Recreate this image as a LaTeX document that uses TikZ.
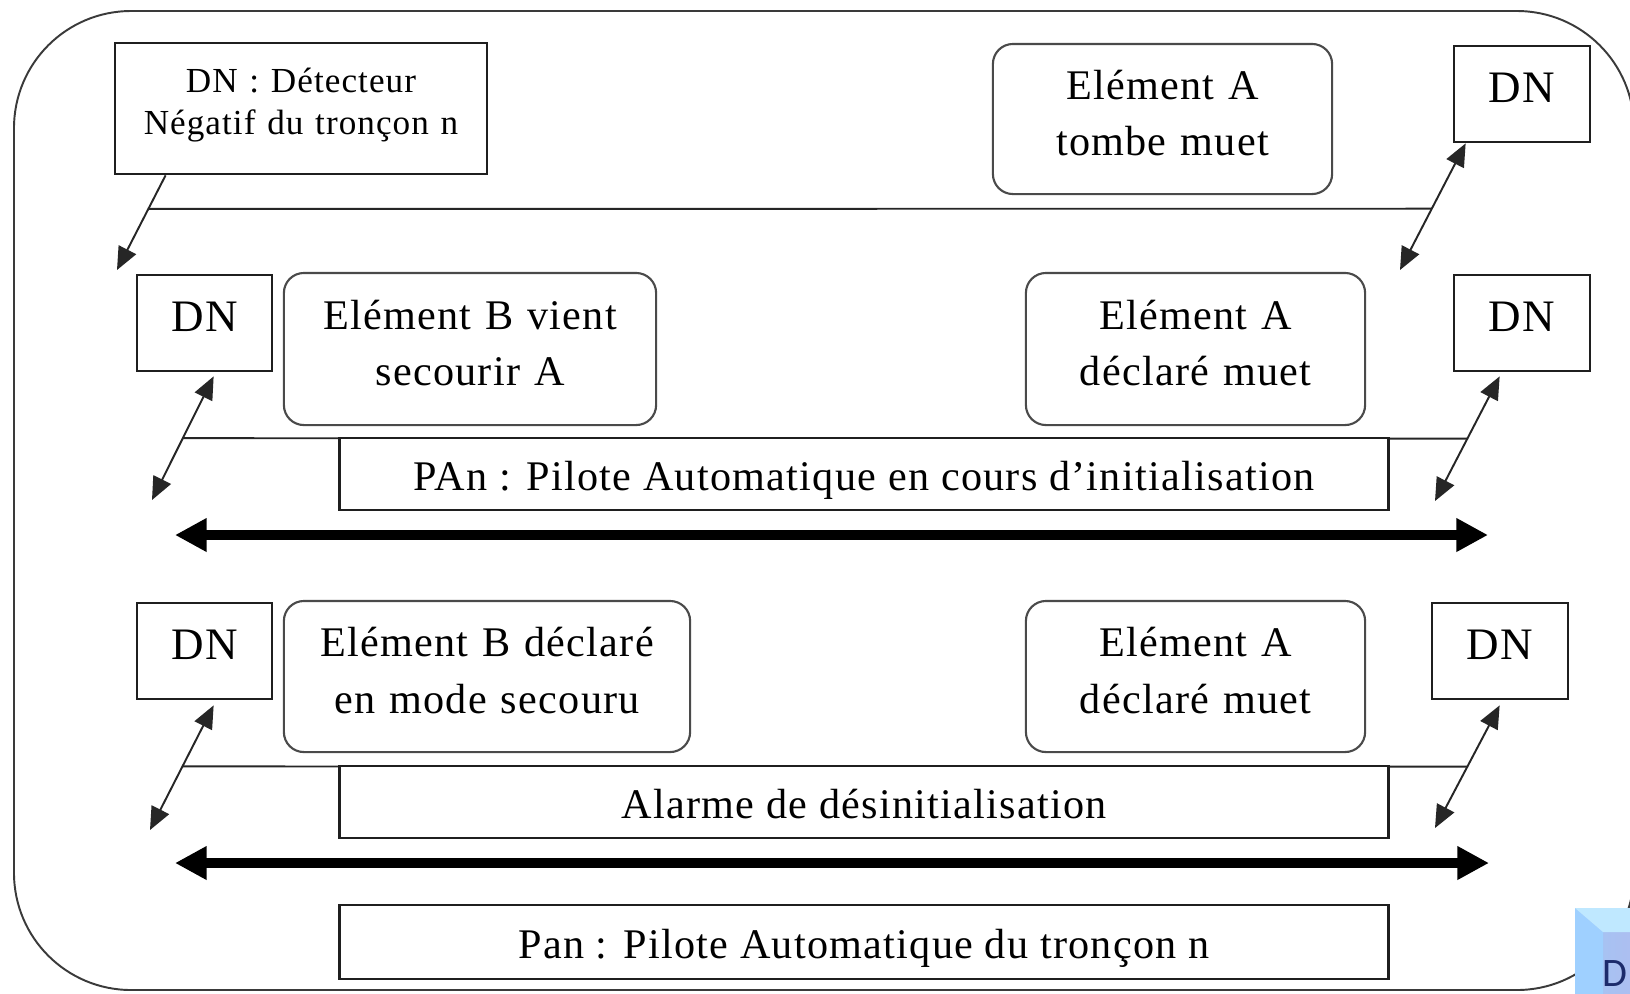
\documentclass[tikz,border=0pt]{standalone}
\usepackage{fontspec}
\setmainfont[LetterSpace=3]{Liberation Serif}
\newfontfamily\badgefont{Carlito}
\usetikzlibrary{arrows.meta,calc}

\definecolor{framegray}{HTML}{3A3A3A}
\definecolor{roundgray}{HTML}{4A4A4A}
\definecolor{badgebase}{HTML}{A2C6F4}
\definecolor{badgeright}{HTML}{AEBDF0}
\definecolor{badgetop}{HTML}{BFE8FF}
\definecolor{badgeleft}{HTML}{9FD0FF}
\definecolor{badgeink}{HTML}{1C2B6B}

\begin{document}
\begin{tikzpicture}[x=0.01cm,y=-0.01cm,
  sq/.style={draw=black!88, line width=0.75pt, inner sep=0pt},
  rnd/.style={draw=roundgray, line width=0.6pt, rounded corners=0.2cm, inner sep=0pt},
  dnbox/.style={sq, minimum width=1.36cm, minimum height=0.96cm,
    text height=0.30cm, text depth=0.14cm,
    font=\fontsize{12.8pt}{15pt}\selectfont},
  elem/.style={rnd, align=center, minimum height=1.51cm,
    text height=0.30cm, text depth=0.70cm,
    font=\fontsize{12pt}{16.2pt}\selectfont},
  bar/.style={sq, minimum width=10.48cm, minimum height=0.72cm,
    text height=0.32cm, text depth=0cm,
    font=\fontsize{12pt}{15pt}\selectfont},
  link/.style={line width=0.55pt, black!85},
  onearrow/.style={link, -{Triangle[length=6.5pt,width=5.5pt]}},
  biarrow/.style={link, {Triangle[length=6.5pt,width=5.5pt]}-{Triangle[length=6.5pt,width=5.5pt]}},
  bus/.style={line width=2.9pt, black,
    {Triangle[length=9pt,width=9pt]}-{Triangle[length=9pt,width=9pt]}}
]
\useasboundingbox (0,0) rectangle (1630,993);
\clip (0,0) rectangle (1630,993);
\fill[white] (0,0) rectangle (1630,993);

% outer rounded frame
\draw[framegray, line width=0.55pt, rounded corners=1.17cm] (14,11) rectangle (1634,990);

% ---- legend and first state ----
\node[sq, minimum width=3.72cm, minimum height=1.31cm, text width=3.72cm,
      align=center, text height=0.25cm, text depth=0.58cm,
      font=\fontsize{10pt}{12.2pt}\selectfont]
  (legend) at (301,108.5) {DN : Détecteur\\Négatif du tronçon n};
\node[elem, text width=3.39cm, minimum height=1.50cm]
  (tombe) at (1162.5,119) {Elément A\\tombe muet};
\node[dnbox] (dnA) at (1522,94) {DN\hspace{0.1cm}};

\coordinate (s1) at ($(legend.south west)+(52,0)$);
\coordinate (t1) at (117,270);
\coordinate (s2) at ($(dnA.south west)+(13,0)$);
\coordinate (t2) at (1400,270);
\draw[onearrow] (s1) -- (t1);
\draw[biarrow] (t2) -- (s2);
\draw[link] ($(s1)!0.354!(t1)$) -- ($(t2)!0.484!(s2)$);

% ---- initialisation in progress ----
\node[dnbox, minimum width=1.35cm] (dnB) at (204.5,323) {DN\hspace{0.1cm}};
\node[elem, text width=3.72cm, minimum height=1.52cm]
  (vient) at (470,349) {Elément B vient\\secourir A};
\node[elem, text width=3.39cm, minimum height=1.52cm]
  (muetB) at (1195.5,349) {Elément A\\déclaré muet};
\node[dnbox] (dnC) at (1522,323) {DN\hspace{0.1cm}};

\coordinate (s3) at ($(dnB.south west)+(78,4)$);
\coordinate (t3) at (152,500);
\coordinate (s4) at ($(dnC.south west)+(47,4)$);
\coordinate (t4) at (1435,501);
\draw[link] ($(s3)!0.5!(t3)$) -- ($(s4)!0.5!(t4)$);
\node[bar, fill=white] (pan1) at (864,474) {PAn : Pilote Automatique en cours d’initialisation};
\draw[biarrow] (s3) -- (t3);
\draw[biarrow] (s4) -- (t4);

\coordinate (b1) at (175,535);
\coordinate (b2) at (1488,535);
\draw[bus] (b1) -- (b2);

% ---- de-initialisation alarm ----
\node[dnbox, minimum width=1.35cm] (dnD) at (204.5,651) {DN\hspace{0.1cm}};
\node[elem, text width=4.06cm]
  (secouru) at (487,676.5) {Elément B déclaré\\en mode secouru};
\node[elem, text width=3.39cm]
  (muetC) at (1195.5,676.5) {Elément A\\déclaré muet};
\node[dnbox] (dnE) at (1500,651) {DN\hspace{0.1cm}};

\coordinate (s5) at ($(dnD.south west)+(78,5)$);
\coordinate (t5) at (150,830);
\coordinate (s6) at ($(dnE.south west)+(69,5)$);
\coordinate (t6) at (1435,828);
\draw[link] ($(s5)!0.49!(t5)$) -- ($(s6)!0.5!(t6)$);
\node[bar, fill=white] (alarm) at (864,802) {Alarme de désinitialisation};
\draw[biarrow] (s5) -- (t5);
\draw[biarrow] (s6) -- (t6);

\coordinate (b3) at (175,863);
\coordinate (b4) at (1489,863);
\draw[bus] (b3) -- (b4);

% ---- definition of the pilot ----
\node[bar, minimum height=0.74cm] (pan2) at (864,942) {Pan : Pilote Automatique du tronçon n};

% ---- corner badge ----
\shade[left color=badgebase, right color=badgeright] (1575,908) rectangle (1640,1000);
\fill[badgeleft] (1575,908) -- (1603,932) -- (1603,1000) -- (1575,1000) -- cycle;
\fill[badgetop] (1575,908) -- (1640,908) -- (1640,932) -- (1603,932) -- cycle;
\node[anchor=base west, inner sep=0pt, text=badgeink,
      font=\badgefont\fontsize{11.5pt}{14pt}\selectfont] (badge) at (1602,986) {D};
\end{tikzpicture}
\end{document}
